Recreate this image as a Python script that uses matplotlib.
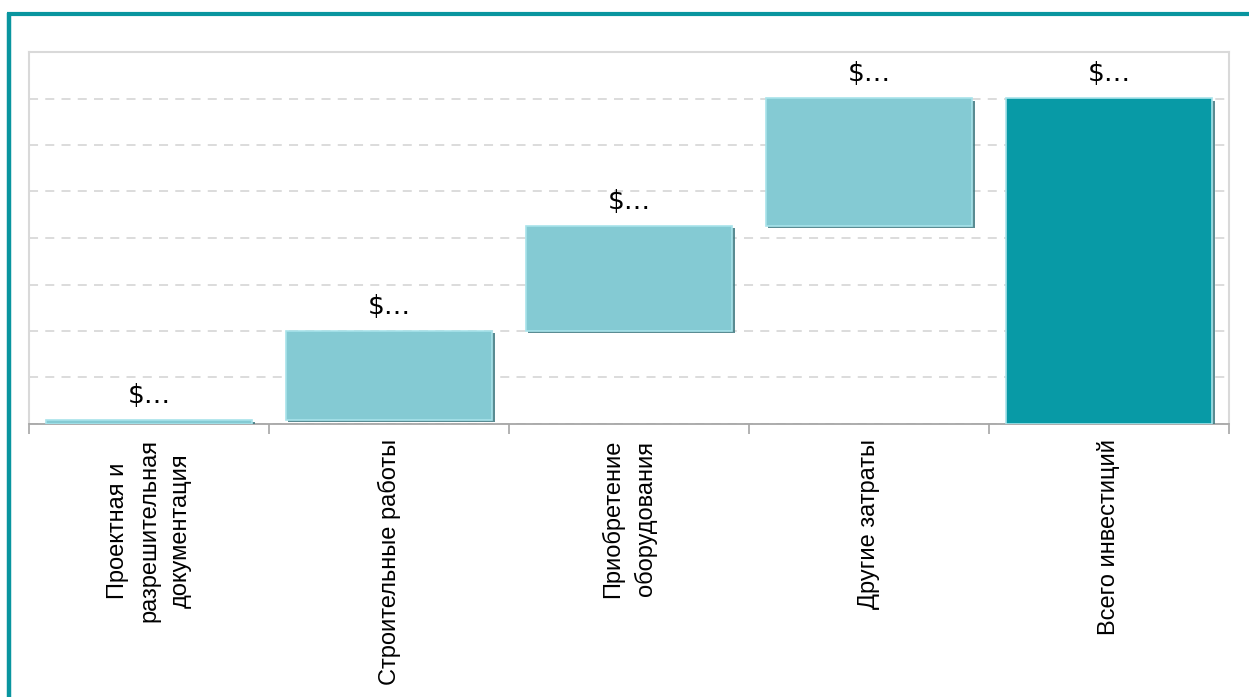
import numpy as np
import matplotlib
matplotlib.use("Agg")
import matplotlib.pyplot as plt
import matplotlib.patheffects as pe

plt.rcParams['font.family'] = ['Liberation Sans', 'DejaVu Sans']

# ── data ──────────────────────────────────────────────────────────────────────
categories = [
    "Проектная и\nразрешительная\nдокументация",
    "Строительные работы",
    "Приобретение\nоборудования",
    "Другие затраты",
    "Всего инвестиций",
]
steps = [90, 1910, 2260, 2750]          # increments (thousand $)
total = sum(steps)
value_labels = ["$…", "$…", "$…", "$…", "$…"]

# ── derived waterfall geometry ───────────────────────────────────────────────
bottoms = list(np.concatenate([[0], np.cumsum(steps)[:-1]])) + [0]
heights = steps + [total]
colors = ["#84cad3"] * len(steps) + ["#089aa6"]

fig = plt.figure(figsize=(12.49, 6.97), dpi=100)
fig.patch.set_facecolor("white")
ax = fig.add_axes([29 / 1249, 1 - 424 / 697, 1200 / 1249, 372 / 697])

x = np.arange(len(categories))
bars = ax.bar(x, heights, bottom=bottoms, width=0.86, color=colors,
              edgecolor="#a8e3ea", linewidth=1.2, zorder=3)
for b in bars:
    b.set_path_effects([
        pe.SimplePatchShadow(offset=(1.8, -1.8), shadow_rgbFace="#3d7880", alpha=0.85),
        pe.Normal(),
    ])

for xi, bt, h, lab in zip(x, bottoms, heights, value_labels):
    ax.annotate(lab, (xi, bt + h), xytext=(0, 17), textcoords="offset points",
                ha="center", va="center", fontsize=19, color="black",
                family=["DejaVu Sans"])

ax.set_xlim(-0.5, len(categories) - 0.5)
ax.set_ylim(0, 8000)
ax.set_yticks(np.arange(0, 8001, 1000))
ax.set_yticklabels([])
ax.tick_params(axis="y", length=0)
ax.yaxis.grid(True, linestyle=(0, (5, 4)), color="#d9d9d9", linewidth=1.3, zorder=0)
ax.set_axisbelow(True)

ax.set_xticks(x)
ax.set_xticklabels(categories, rotation=90, fontsize=17, va="top", ha="center",
                   multialignment="center", linespacing=1.55)
ax.tick_params(axis="x", length=0, pad=11)
ax.set_xticks(np.arange(-0.5, len(categories)), minor=True)
ax.tick_params(axis="x", which="minor", length=7, color="#a6a6a6", width=1.2)

for side in ["left", "top", "right"]:
    ax.spines[side].set_color("#d9d9d9")
    ax.spines[side].set_linewidth(1.5)
ax.spines["bottom"].set_color("#a6a6a6")
ax.spines["bottom"].set_linewidth(1.3)

# teal frame on top and left
fig.add_artist(plt.Line2D([7 / 1249, 1], [1 - 14 / 697, 1 - 14 / 697],
                          color="#09959f", linewidth=3, solid_capstyle="butt",
                          transform=fig.transFigure))
fig.add_artist(plt.Line2D([9 / 1249, 9 / 1249], [0, 1 - 12.5 / 697],
                          color="#09959f", linewidth=3.2, solid_capstyle="butt",
                          transform=fig.transFigure))

fig.savefig("out.png", dpi=100, facecolor="white")
